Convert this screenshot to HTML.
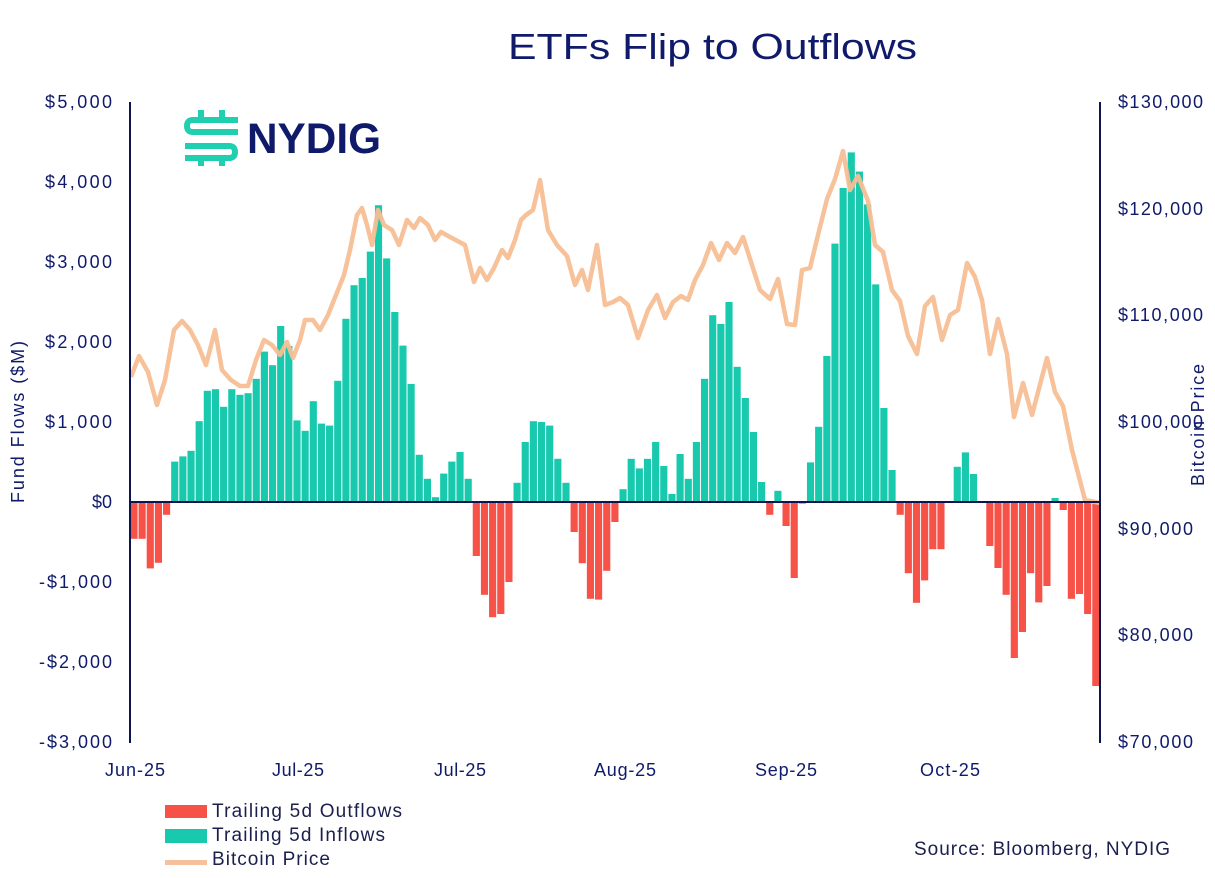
<!DOCTYPE html>
<html><head><meta charset="utf-8"><style>
body{margin:0;background:#fff;}
svg text{font-family:"Liberation Sans",sans-serif;}
</style></head><body>
<svg id="s" width="1215" height="873" viewBox="0 0 1215 873" xmlns="http://www.w3.org/2000/svg">
<rect width="1215" height="873" fill="#fff"/>
<text x="508" y="59" font-size="36" fill="#0f1a6b" textLength="409" lengthAdjust="spacingAndGlyphs">ETFs Flip to Outflows</text>
<g id="bars"></g>
<polyline id="btc" fill="none" stroke="#f7be94" stroke-width="4.5" stroke-linejoin="round" opacity="0.95"/>
<line x1="130" y1="502" x2="1100" y2="502" stroke="#0d1450" stroke-width="2"/>
<line x1="130" y1="102" x2="130" y2="743" stroke="#0d1450" stroke-width="2"/>
<line x1="1100" y1="102" x2="1100" y2="743" stroke="#0d1450" stroke-width="2"/>
<g font-size="18" fill="#0f1a6b" text-anchor="end" lengthAdjust="spacingAndGlyphs">
<text x="112" y="108" textLength="67">$5,000</text><text x="112" y="188" textLength="67">$4,000</text><text x="112" y="268" textLength="67">$3,000</text>
<text x="112" y="348" textLength="67">$2,000</text><text x="112" y="428" textLength="67">$1,000</text><text x="112" y="508">$0</text>
<text x="112" y="588" textLength="73">-$1,000</text><text x="112" y="668" textLength="73">-$2,000</text><text x="112" y="748" textLength="73">-$3,000</text>
</g>
<g font-size="18" fill="#0f1a6b">
<text x="1118" y="108" textLength="85">$130,000</text><text x="1118" y="215" textLength="85">$120,000</text><text x="1118" y="321" textLength="85">$110,000</text>
<text x="1118" y="428" textLength="85">$100,000</text><text x="1118" y="535" textLength="75">$90,000</text><text x="1118" y="641" textLength="75">$80,000</text>
<text x="1118" y="748" textLength="75">$70,000</text>
</g>
<g font-size="18" fill="#0f1a6b" text-anchor="middle">
<text x="135" y="776" textLength="60">Jun-25</text><text x="298" y="776" textLength="52">Jul-25</text><text x="460" y="776" textLength="52">Jul-25</text>
<text x="625" y="776" textLength="62">Aug-25</text><text x="786" y="776" textLength="62">Sep-25</text><text x="950" y="776" textLength="60">Oct-25</text>
</g>
<text transform="translate(24,422) rotate(-90)" font-size="18" fill="#0f1a6b" text-anchor="middle" textLength="162">Fund Flows ($M)</text>
<text transform="translate(1204,425) rotate(-90)" font-size="18" fill="#0f1a6b" text-anchor="middle" textLength="122">Bitcoin Price</text>
<g fill="none" stroke="#1fcfb0" stroke-width="6" stroke-linecap="butt" stroke-linejoin="round">
<path d="M238 120 H193 Q187 120 187 126 Q187 132 193 132 H238"/>
<path d="M185 146 H229 Q235 146 235 152 Q235 158 229 158 H185"/>
<path d="M201 110 V120 M222 110 V120 M201 158 V166 M222 158 V166"/>
</g>
<text x="247" y="153" font-size="43" font-weight="bold" fill="#0f1a6b" textLength="134" lengthAdjust="spacingAndGlyphs">NYDIG</text>
<rect x="165" y="805" width="42" height="13" fill="#f65248"/>
<rect x="165" y="829" width="42" height="14" fill="#18c9ae"/>
<rect x="165" y="860" width="42" height="5" fill="#f7c09c"/>
<g font-size="19" fill="#1a1f4e">
<text x="212" y="817" textLength="190">Trailing 5d Outflows</text>
<text x="212" y="841" textLength="173">Trailing 5d Inflows</text>
<text x="212" y="865" textLength="118">Bitcoin Price</text>
<text x="914" y="855" textLength="256">Source: Bloomberg, NYDIG</text>
</g>
</svg>
<script>
var v=[-460,-460,-830,-760,-160,505,570,640,1010,1390,1410,1190,1410,1340,1360,1540,1880,1710,2200,1950,1020,890,1260,980,955,1515,2290,2710,2800,3130,3710,3045,2375,1955,1475,590,290,60,355,505,625,290,-675,-1160,-1440,-1400,-1000,240,750,1010,1000,955,540,240,-375,-765,-1210,-1220,-860,-250,160,540,420,540,750,450,100,600,290,750,1540,2335,2225,2500,1690,1300,875,250,-160,140,-300,-950,-20,495,940,1825,3230,3925,4370,4130,3720,2720,1175,400,-160,-890,-1260,-980,-590,-590,0,440,620,350,0,-550,-825,-1160,-1950,-1625,-890,-1255,-1050,50,-100,-1210,-1150,-1400,-2300];
var n=v.length,p=970/n,h='';
for(var i=0;i<n;i++){var x=130+i*p,val=v[i];if(val==0)continue;var hh=Math.abs(val)*0.08;var y=val>0?502-hh:502;
h+='<rect x="'+(x+0.4).toFixed(2)+'" y="'+y.toFixed(1)+'" width="'+(p-1).toFixed(2)+'" height="'+hh.toFixed(1)+'" fill="'+(val>0?'#18c9ae':'#f65248')+'"/>';}
document.getElementById('bars').innerHTML=h;
var pts="131,377 139,356 148,372 157,405 165,380 174,330 182,321 190,330 198,345 206,365 215,330 222,370 231,380 240,386 248,386 256,360 264,340 272,345 280,355 287,342 293,358 300,340 305,320 313,320 320,330 328,315 336,295 344,275 350,250 357,215 362,208 367,225 372,245 378,210 384,225 392,230 399,245 407,220 414,228 420,218 428,225 435,240 441,232 450,237 465,245 474,282 480,268 487,280 494,268 502,250 508,258 515,240 521,220 526,215 533,210 540,180 548,230 557,245 567,256 575,285 582,270 588,290 597,245 605,305 613,302 620,298 628,305 638,338 648,310 657,295 665,318 673,302 681,296 688,300 695,280 703,265 711,243 719,260 727,243 735,253 743,237 752,265 760,290 770,299 778,279 787,324 795,325 802,270 810,268 818,235 827,199 835,179 843,151 850,190 858,176 868,201 875,245 883,252 892,290 900,301 908,336 917,354 925,306 933,297 942,340 950,315 958,310 967,263 975,277 982,300 990,354 998,319 1007,354 1014,417 1023,383 1032,415 1047,358 1055,392 1063,406 1072,450 1085,500 1100,503";
document.getElementById('btc').setAttribute('points',pts);
</script>
</body></html>
